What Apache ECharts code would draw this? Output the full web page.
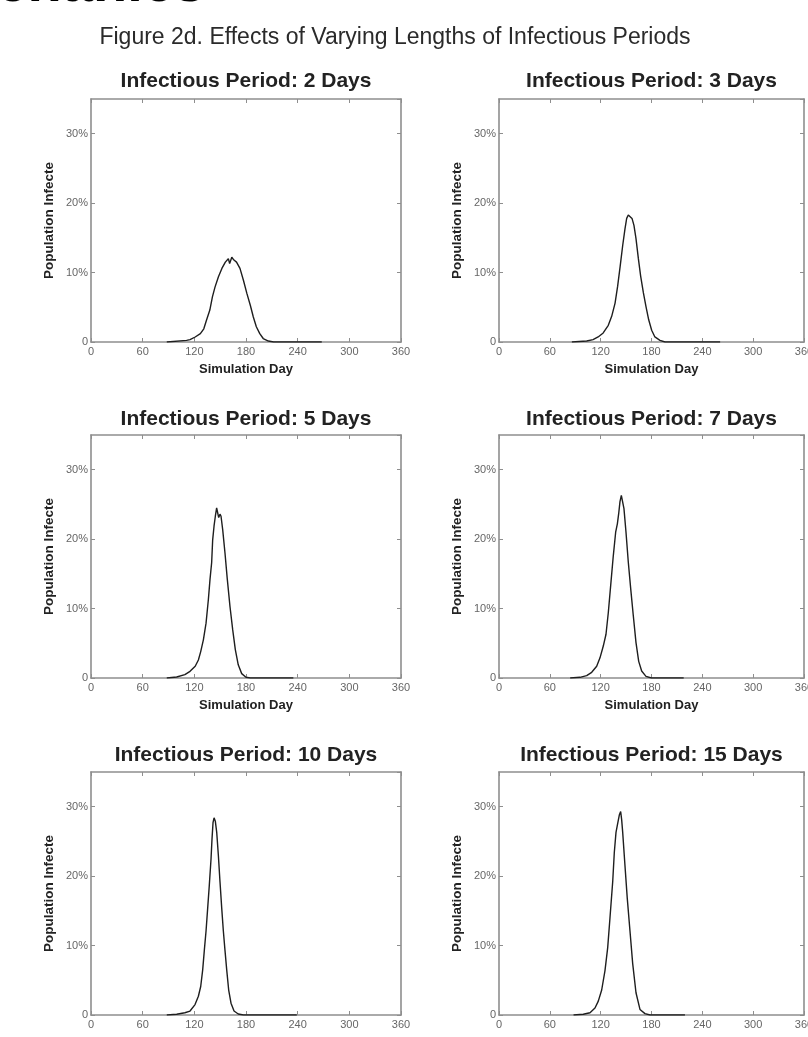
<!DOCTYPE html>
<html>
<head>
<meta charset="utf-8">
<script src="https://cdn.jsdelivr.net/npm/echarts@6/dist/echarts.min.js"></script>
<style>
html,body{margin:0;padding:0;background:#fff;}
#chart{width:808px;height:1037px;}
</style>
</head>
<body>
<div id="chart"></div>
<script>
// ---- Data ----
const mainTitle = "Figure 2d. Effects of Varying Lengths of Infectious Periods";
const panelTitles = ["Infectious Period: 2 Days", "Infectious Period: 3 Days",
  "Infectious Period: 5 Days", "Infectious Period: 7 Days",
  "Infectious Period: 10 Days", "Infectious Period: 15 Days"];
const xAxisName = "Simulation Day";
const yAxisName = "Population Infecte";

// Infectious period 2 days
const days2 = [88, 111, 115, 121, 127, 131, 134, 138, 141, 144, 148, 152, 156, 159.5, 161, 163.5, 166, 169, 173, 177, 181, 185, 188.5, 192, 196, 200, 206, 212, 268];
const vals2 = [0, 0.24, 0.34, 0.72, 1.2, 1.9, 3.1, 4.6, 6.5, 7.9, 9.4, 10.6, 11.5, 12.0, 11.3, 12.2, 11.8, 11.5, 10.6, 8.9, 7.0, 5.3, 3.6, 2.2, 1.2, 0.5, 0.14, 0, 0];
// Infectious period 3 days
const days3 = [86, 103.5, 111, 117, 123, 129, 133, 137, 140, 143, 146, 148.7, 150.7, 152.6, 154.6, 157, 159.3, 161.7, 164.5, 167.2, 170.4, 173.5, 176.7, 180.2, 184, 190, 196, 261];
const vals3 = [0, 0.15, 0.34, 0.73, 1.3, 2.4, 3.7, 5.6, 8.0, 10.9, 13.9, 16.3, 17.8, 18.3, 18.1, 17.8, 16.8, 14.9, 12.0, 9.5, 7.1, 5.1, 3.2, 1.7, 0.73, 0.24, 0, 0];
// Infectious period 5 days
const days5 = [88, 99.5, 109, 115, 121, 124.7, 127.4, 130.5, 133.6, 136.3, 138.2, 140.1, 141.3, 142.9, 144.4, 145.9, 147.1, 148.3, 149.8, 151, 152.9, 155.6, 158.3, 161.4, 164.5, 167.6, 171, 175, 180, 185, 235];
const vals5 = [0, 0.14, 0.48, 0.96, 1.7, 2.6, 3.8, 5.5, 7.9, 11.3, 14.2, 16.6, 19.9, 21.9, 23.3, 24.5, 23.8, 23.1, 23.6, 23.3, 21.4, 18.0, 14.2, 10.3, 7.0, 4.1, 1.9, 0.63, 0.1, 0, 0];
// Infectious period 7 days
const days7 = [84, 95.6, 103.5, 109.4, 115.3, 119.2, 123.1, 126.3, 129, 131.8, 134.9, 137.7, 139.7, 141.3, 142.8, 144.4, 146, 147.5, 149.9, 152.6, 155.5, 158.5, 161.7, 164.9, 168.4, 173.5, 180, 218];
const vals7 = [0, 0.1, 0.34, 0.82, 1.7, 2.9, 4.6, 6.3, 9.4, 13.3, 17.6, 21.0, 22.2, 23.7, 25.4, 26.3, 26.1, 24.4, 21.0, 16.7, 12.8, 9.0, 5.1, 2.4, 1.0, 0.24, 0, 0];
// Infectious period 10 days
const days10 = [88, 99.5, 109, 115, 120.8, 124.7, 127.4, 129.7, 131.6, 133.6, 135.5, 137.4, 139.4, 140.5, 141.7, 142.9, 144.4, 146, 147.9, 149.8, 151.8, 153.7, 155.6, 157.6, 159.9, 162.6, 166.1, 171, 177, 239];
const vals10 = [0, 0.1, 0.33, 0.57, 1.5, 2.7, 4.1, 6.5, 9.3, 12.1, 15.4, 18.7, 22.5, 25.3, 27.7, 28.4, 27.9, 26.3, 23.0, 19.2, 15.4, 12.1, 9.3, 6.5, 3.6, 1.7, 0.57, 0.14, 0, 0];
// Infectious period 15 days
const days15 = [88, 99.5, 107.4, 113.3, 117.2, 121.2, 125.1, 128.3, 131, 134.2, 136.1, 138.1, 140.1, 142, 143.6, 144.8, 146, 148.7, 151.4, 154.6, 157.8, 161.7, 166.4, 172.3, 178.2, 219.5];
const vals15 = [0, 0.1, 0.33, 1.0, 2.0, 3.6, 6.4, 9.7, 14.0, 19.2, 23.4, 26.3, 27.6, 28.8, 29.3, 28.1, 26.3, 21.5, 16.8, 12.1, 7.4, 3.2, 0.8, 0.2, 0, 0];

const allDays = [days2, days3, days5, days7, days10, days15];
const allVals = [vals2, vals3, vals5, vals7, vals10, vals15];

// ---- Layout ----
const FONT = '"Liberation Sans", Arial, Helvetica, sans-serif';
const colLeft = [91, 499];
const colWidth = [310, 305];
const rowTop = [99, 435, 772];
const gridH = 243;
const AXIS_COLOR = '#8e8e8e';

const grids = [], xAxes = [], yAxes = [], series = [], graphics = [];

for (let i = 0; i < 6; i++) {
  const c = i % 2, r = Math.floor(i / 2);
  grids.push({ left: colLeft[c], top: rowTop[r], width: colWidth[c], height: gridH,
    containLabel: false, outerBoundsMode: 'none' });
  const tickCommon = { show: true, inside: true, length: 4, lineStyle: { color: AXIS_COLOR, width: 1 } };
  const lineCommon = { show: true, onZero: false, lineStyle: { color: AXIS_COLOR, width: 1.6 } };
  xAxes.push({
    type: 'value', gridIndex: i, position: 'bottom', min: 0, max: 360, interval: 60,
    axisLine: lineCommon, axisTick: tickCommon, splitLine: { show: false },
    axisLabel: { color: '#666', fontSize: 11, fontFamily: FONT, margin: 4 },
    name: r < 2 ? xAxisName : '', nameLocation: 'middle', nameGap: 21,
    nameTextStyle: { color: '#222', fontSize: 13, fontWeight: 'bold', fontFamily: FONT }
  });
  xAxes.push({
    type: 'value', gridIndex: i, position: 'top', min: 0, max: 360, interval: 60,
    axisLine: lineCommon, axisTick: tickCommon, splitLine: { show: false },
    axisLabel: { show: false }
  });
  yAxes.push({
    type: 'value', gridIndex: i, position: 'left', min: 0, max: 35, interval: 10,
    axisLine: lineCommon, axisTick: tickCommon, splitLine: { show: false },
    axisLabel: { color: '#666', fontSize: 11, fontFamily: FONT, margin: 3, showMaxLabel: false,
      formatter: v => (v === 0 ? '0' : (v === 35 ? '' : v + '%')) },
    name: yAxisName, nameLocation: 'middle', nameGap: 35, nameRotate: 90,
    nameTextStyle: { color: '#222', fontSize: 13.5, fontWeight: 'bold', fontFamily: FONT }
  });
  yAxes.push({
    type: 'value', gridIndex: i, position: 'right', min: 0, max: 35, interval: 10,
    axisLine: lineCommon, axisTick: tickCommon, splitLine: { show: false },
    axisLabel: { show: false }
  });
  series.push({
    type: 'line', xAxisIndex: 2 * i, yAxisIndex: 2 * i,
    data: allDays[i].map((d, j) => [d, allVals[i][j]]),
    showSymbol: false, symbol: 'none', smooth: false,
    lineStyle: { color: '#1e1e1e', width: 1.4 }, z: 5
  });
  graphics.push({
    type: 'text', x: colLeft[c] + colWidth[c] / 2, y: [81.5, 419.5, 755.5][r],
    style: { text: panelTitles[i], font: 'bold 21px ' + FONT, fill: '#222', align: 'center', verticalAlign: 'middle' }
  });
}

graphics.push({
  type: 'text', x: 395, y: 38,
  style: { text: mainTitle, font: '23px ' + FONT, fill: '#2a2a2a', align: 'center', verticalAlign: 'middle' }
});
graphics.push({
  type: 'text', x: 205, y: -14,
  style: { text: 'Mechanics', font: 'bold 56px ' + FONT, fill: '#000', align: 'right', verticalAlign: 'middle' }
});

const chart = echarts.init(document.getElementById('chart'), null, { renderer: 'canvas' });
chart.setOption({
  animation: false,
  backgroundColor: '#fff',
  grid: grids, xAxis: xAxes, yAxis: yAxes, series: series,
  graphic: graphics
});
</script>
</body>
</html>
